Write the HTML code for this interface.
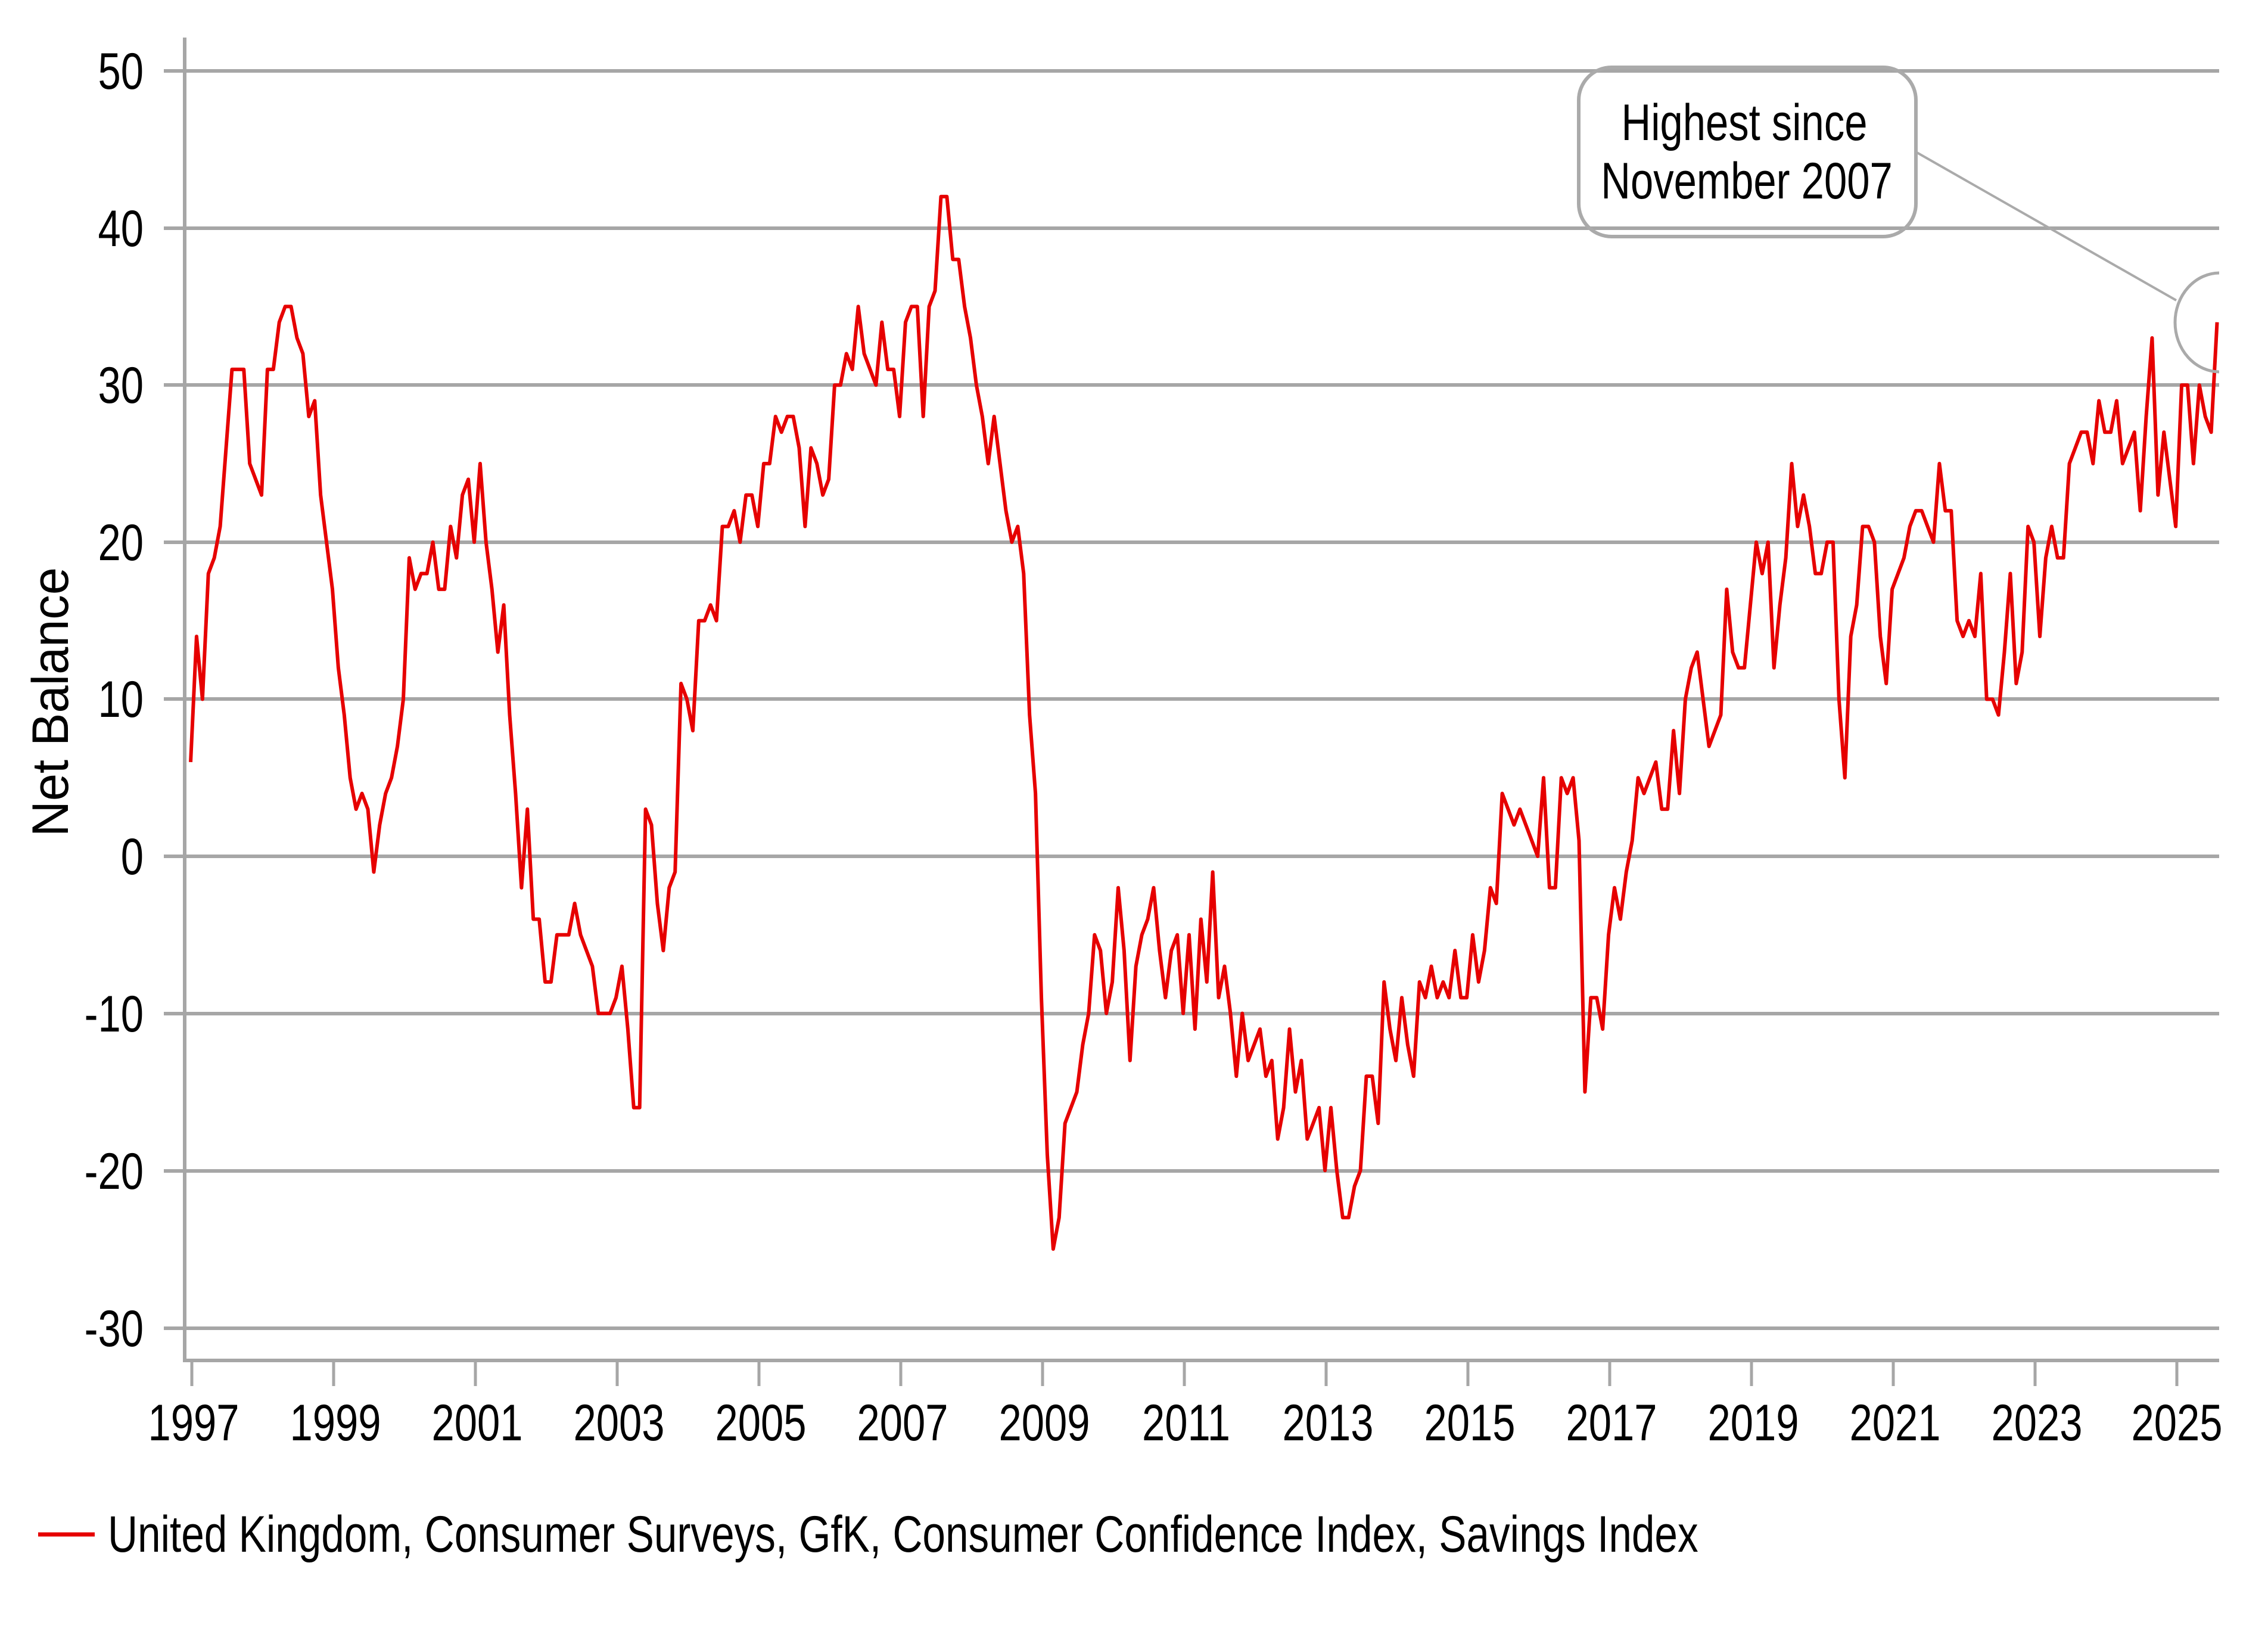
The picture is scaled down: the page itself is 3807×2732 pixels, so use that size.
<!DOCTYPE html>
<html>
<head>
<meta charset="utf-8">
<style>
  html, body { margin: 0; padding: 0; background: #ffffff; }
  body { width: 3807px; height: 2732px; overflow: hidden; }
  svg { display: block; }
  text { font-family: "Liberation Sans", Arial, sans-serif; fill: #000; }
</style>
</head>
<body>
<svg width="3807" height="2732" viewBox="0 0 3807 2732" xmlns="http://www.w3.org/2000/svg">
  <defs>
    <clipPath id="plotclip">
      <rect x="300" y="0" width="3425" height="2300"/>
    </clipPath>
  </defs>
  <rect x="0" y="0" width="3807" height="2732" fill="#ffffff"/>

  <!-- gridlines -->
  <g stroke="#a6a6a6" stroke-width="6">
    <line x1="275" y1="119" x2="3725" y2="119"/>
    <line x1="275" y1="383" x2="3725" y2="383"/>
    <line x1="275" y1="646" x2="3725" y2="646"/>
    <line x1="275" y1="910" x2="3725" y2="910"/>
    <line x1="275" y1="1173" x2="3725" y2="1173"/>
    <line x1="275" y1="1437" x2="3725" y2="1437"/>
    <line x1="275" y1="1701" x2="3725" y2="1701"/>
    <line x1="275" y1="1965" x2="3725" y2="1965"/>
    <line x1="275" y1="2229" x2="3725" y2="2229"/>
  </g>

  <!-- axes -->
  <g stroke="#a6a6a6" stroke-width="6">
    <line x1="310" y1="63" x2="310" y2="2286"/>
    <line x1="307" y1="2283" x2="3725" y2="2283"/>
  </g>
  <!-- x ticks -->
  <g stroke="#a6a6a6" stroke-width="5">
    <line x1="322" y1="2283" x2="322" y2="2326"/>
    <line x1="560" y1="2283" x2="560" y2="2326"/>
    <line x1="798" y1="2283" x2="798" y2="2326"/>
    <line x1="1036" y1="2283" x2="1036" y2="2326"/>
    <line x1="1274" y1="2283" x2="1274" y2="2326"/>
    <line x1="1512" y1="2283" x2="1512" y2="2326"/>
    <line x1="1750" y1="2283" x2="1750" y2="2326"/>
    <line x1="1988" y1="2283" x2="1988" y2="2326"/>
    <line x1="2226" y1="2283" x2="2226" y2="2326"/>
    <line x1="2464" y1="2283" x2="2464" y2="2326"/>
    <line x1="2702" y1="2283" x2="2702" y2="2326"/>
    <line x1="2940" y1="2283" x2="2940" y2="2326"/>
    <line x1="3178" y1="2283" x2="3178" y2="2326"/>
    <line x1="3416" y1="2283" x2="3416" y2="2326"/>
    <line x1="3654" y1="2283" x2="3654" y2="2326"/>
  </g>

  <!-- y tick labels -->
  <g font-size="86" text-anchor="end">
    <text transform="translate(241,149) scale(0.8,1)">50</text>
    <text transform="translate(241,413) scale(0.8,1)">40</text>
    <text transform="translate(241,676) scale(0.8,1)">30</text>
    <text transform="translate(241,940) scale(0.8,1)">20</text>
    <text transform="translate(241,1203) scale(0.8,1)">10</text>
    <text transform="translate(241,1467) scale(0.8,1)">0</text>
    <text transform="translate(241,1731) scale(0.8,1)">-10</text>
    <text transform="translate(241,1995) scale(0.8,1)">-20</text>
    <text transform="translate(241,2259) scale(0.8,1)">-30</text>
  </g>

  <!-- x tick labels -->
  <g font-size="86" text-anchor="middle">
    <text transform="translate(325,2417) scale(0.8,1)">1997</text>
    <text transform="translate(563,2417) scale(0.8,1)">1999</text>
    <text transform="translate(801,2417) scale(0.8,1)">2001</text>
    <text transform="translate(1039,2417) scale(0.8,1)">2003</text>
    <text transform="translate(1277,2417) scale(0.8,1)">2005</text>
    <text transform="translate(1515,2417) scale(0.8,1)">2007</text>
    <text transform="translate(1753,2417) scale(0.8,1)">2009</text>
    <text transform="translate(1991,2417) scale(0.8,1)">2011</text>
    <text transform="translate(2229,2417) scale(0.8,1)">2013</text>
    <text transform="translate(2467,2417) scale(0.8,1)">2015</text>
    <text transform="translate(2705,2417) scale(0.8,1)">2017</text>
    <text transform="translate(2943,2417) scale(0.8,1)">2019</text>
    <text transform="translate(3181,2417) scale(0.8,1)">2021</text>
    <text transform="translate(3419,2417) scale(0.8,1)">2023</text>
    <text transform="translate(3654,2417) scale(0.8,1)">2025</text>
  </g>

  <!-- y axis title -->
  <text transform="translate(114,1178) rotate(-90)" font-size="86" text-anchor="middle" textLength="452" lengthAdjust="spacingAndGlyphs">Net Balance</text>

  <!-- series -->
  <g transform="translate(320,1437) scale(9.917,-26.36)">
    <polyline fill="none" stroke="#e60000" stroke-width="6" stroke-linejoin="round" vector-effect="non-scaling-stroke"
      points="0,6 1,14 2,10 3,18 4,19 5,21 6,26 7,31 8,31 9,31 10,25 11,24
12,23 13,31 14,31 15,34 16,35 17,35 18,33 19,32 20,28 21,29 22,23 23,20
24,17 25,12 26,9 27,5 28,3 29,4 30,3 31,-1 32,2 33,4 34,5 35,7
36,10 37,19 38,17 39,18 40,18 41,20 42,17 43,17 44,21 45,19 46,23 47,24
48,20 49,25 50,20 51,17 52,13 53,16 54,9 55,4 56,-2 57,3 58,-4 59,-4
60,-8 61,-8 62,-5 63,-5 64,-5 65,-3 66,-5 67,-6 68,-7 69,-10 70,-10 71,-10
72,-9 73,-7 74,-11 75,-16 76,-16 77,3 78,2 79,-3 80,-6 81,-2 82,-1 83,11
84,10 85,8 86,15 87,15 88,16 89,15 90,21 91,21 92,22 93,20 94,23 95,23
96,21 97,25 98,25 99,28 100,27 101,28 102,28 103,26 104,21 105,26 106,25 107,23
108,24 109,30 110,30 111,32 112,31 113,35 114,32 115,31 116,30 117,34 118,31 119,31
120,28 121,34 122,35 123,35 124,28 125,35 126,36 127,42 128,42 129,38 130,38 131,35
132,33 133,30 134,28 135,25 136,28 137,25 138,22 139,20 140,21 141,18 142,9 143,4
144,-9 145,-19 146,-25 147,-23 148,-17 149,-16 150,-15 151,-12 152,-10 153,-5 154,-6 155,-10
156,-8 157,-2 158,-6 159,-13 160,-7 161,-5 162,-4 163,-2 164,-6 165,-9 166,-6 167,-5
168,-10 169,-5 170,-11 171,-4 172,-8 173,-1 174,-9 175,-7 176,-10 177,-14 178,-10 179,-13
180,-12 181,-11 182,-14 183,-13 184,-18 185,-16 186,-11 187,-15 188,-13 189,-18 190,-17 191,-16
192,-20 193,-16 194,-20 195,-23 196,-23 197,-21 198,-20 199,-14 200,-14 201,-17 202,-8 203,-11
204,-13 205,-9 206,-12 207,-14 208,-8 209,-9 210,-7 211,-9 212,-8 213,-9 214,-6 215,-9
216,-9 217,-5 218,-8 219,-6 220,-2 221,-3 222,4 223,3 224,2 225,3 226,2 227,1
228,0 229,5 230,-2 231,-2 232,5 233,4 234,5 235,1 236,-15 237,-9 238,-9 239,-11
240,-5 241,-2 242,-4 243,-1 244,1 245,5 246,4 247,5 248,6 249,3 250,3 251,8
252,4 253,10 254,12 255,13 256,10 257,7 258,8 259,9 260,17 261,13 262,12 263,12
264,16 265,20 266,18 267,20 268,12 269,16 270,19 271,25 272,21 273,23 274,21 275,18
276,18 277,20 278,20 279,10 280,5 281,14 282,16 283,21 284,21 285,20 286,14 287,11
288,17 289,18 290,19 291,21 292,22 293,22 294,21 295,20 296,25 297,22 298,22 299,15
300,14 301,15 302,14 303,18 304,10 305,10 306,9 307,13 308,18 309,11 310,13 311,21
312,20 313,14 314,19 315,21 316,19 317,19 318,25 319,26 320,27 321,27 322,25 323,29
324,27 325,27 326,29 327,25 328,26 329,27 330,22 331,28 332,33 333,23 334,27 335,24
336,21 337,30 338,30 339,25 340,30 341,28 342,27 343,34"/>
  </g>

  <!-- annotation -->
  <rect x="2650" y="113" width="566" height="284" rx="55" ry="55" fill="none" stroke="#aaaaaa" stroke-width="6"/>
  <g font-size="86" text-anchor="middle">
    <text transform="translate(2928,235) scale(0.8,1)">Highest since</text>
    <text transform="translate(2932,333) scale(0.8,1)">November 2007</text>
  </g>
  <line x1="3216" y1="255" x2="3653" y2="504" stroke="#aaaaaa" stroke-width="4"/>
  <g clip-path="url(#plotclip)">
    <ellipse cx="3726" cy="541" rx="75" ry="83" fill="none" stroke="#aaaaaa" stroke-width="5"/>
  </g>

  <!-- legend -->
  <line x1="64" y1="2575" x2="159" y2="2575" stroke="#e60000" stroke-width="7"/>
  <text transform="translate(181,2604) scale(0.806,1)" font-size="86">United Kingdom, Consumer Surveys, GfK, Consumer Confidence Index, Savings Index</text>
</svg>
</body>
</html>
